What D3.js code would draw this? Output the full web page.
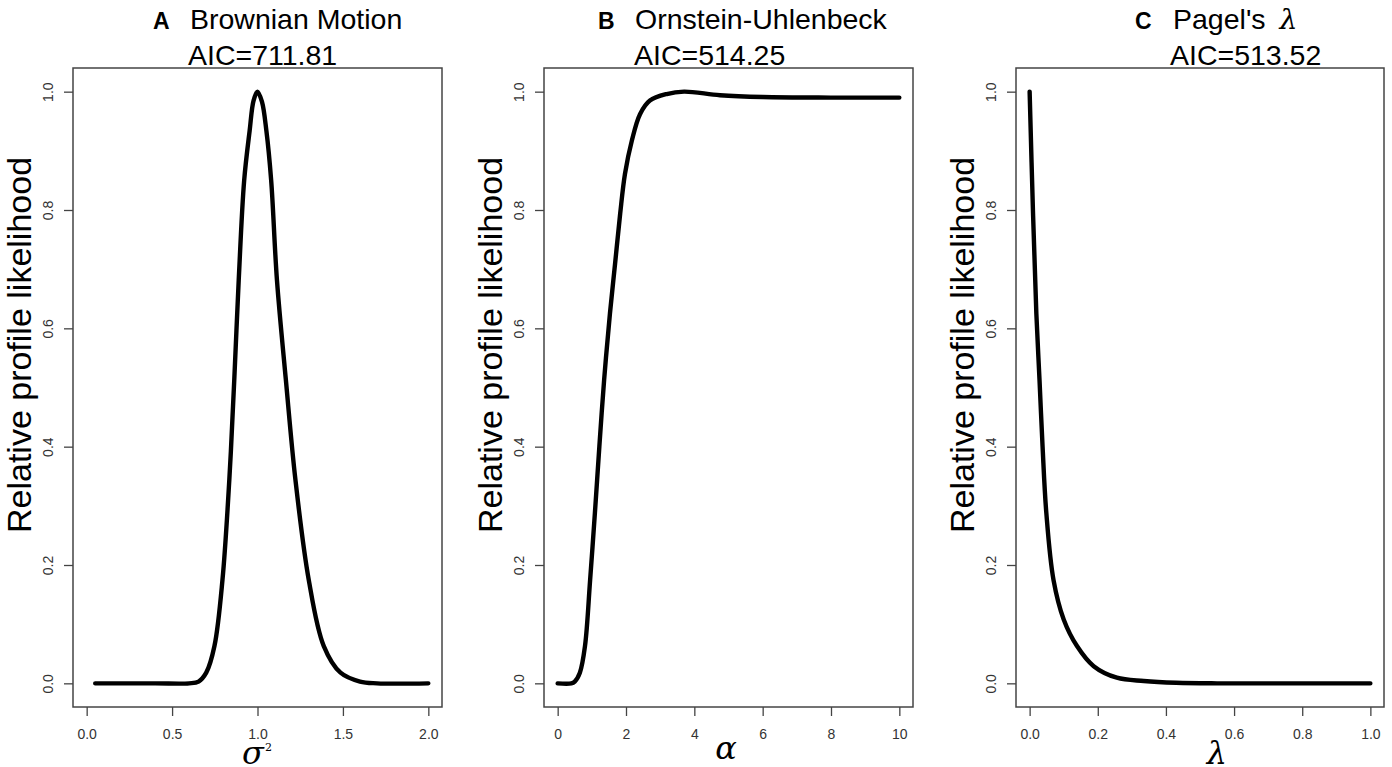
<!DOCTYPE html>
<html lang="en">
<script src="https://d3js.org/d3.v7.min.js"></script>
<style>
  body { margin: 0; background: white; }
  text { font-family: "Liberation Sans", Arial, sans-serif; }
</style>
<body>
<svg width="1392" height="767" id="fig"></svg>
<script>
  // values
  var xA = [0.05, 0.40, 0.60, 0.655, 0.700, 0.748, 0.795, 0.835, 0.864, 0.890, 0.922, 0.954, 0.977, 1.0, 1.026, 1.052, 1.080, 1.114, 1.166, 1.222, 1.300, 1.388, 1.486, 1.60, 1.70, 2.0];
  var yA = [0, 0, 0, 0.003, 0.018, 0.063, 0.175, 0.344, 0.513, 0.681, 0.85, 0.934, 0.985, 1.0, 0.983, 0.934, 0.85, 0.681, 0.513, 0.344, 0.175, 0.063, 0.018, 0.003, 0, 0];

  var xB = [0, 0.40, 0.50, 0.65, 0.80, 0.95, 1.09, 1.22, 1.36, 1.53, 1.68, 1.83, 1.97, 2.17, 2.41, 2.70, 3.19, 3.70, 4.75, 6.0, 8.0, 10.0];
  var yB = [0, 0, 0.003, 0.018, 0.063, 0.175, 0.288, 0.40, 0.513, 0.625, 0.709, 0.794, 0.861, 0.917, 0.962, 0.985, 0.996, 1.0, 0.994, 0.991, 0.990, 0.990];

  var xC = [0, 0.010, 0.0197, 0.029, 0.038, 0.049, 0.070, 0.100, 0.139, 0.188, 0.256, 0.335, 0.43, 0.55, 0.75, 1.0];
  var yC = [1.0, 0.794, 0.625, 0.513, 0.40, 0.288, 0.175, 0.108, 0.063, 0.029, 0.0095, 0.004, 0.001, 0, 0, 0];

  var xTicksA = [0, 0.5, 1.0, 1.5, 2.0];
  var xTicksB = [0, 2, 4, 6, 8, 10];
  var xTicksC = [0, 0.2, 0.4, 0.6, 0.8, 1.0];
  var yTicks = [0, 0.2, 0.4, 0.6, 0.8, 1.0];

  var letters = ["A", "B", "C"];
  var names = ["Brownian Motion", "Ornstein-Uhlenbeck", "Pagel's"];
  var aics = ["AIC=711.81", "AIC=514.25", "AIC=513.52"];

  // layout of the three panels
  var plotTop = 68, plotBottom = 707;
  var panels = [
    {x: xA, y: yA, ticks: xTicksA, fmt: d3.format(".1f"), dom: [-0.08, 2.08], left: 73, right: 442,
     letterX: 153, nameX: 190, aicX: 188, labelX: 257},
    {x: xB, y: yB, ticks: xTicksB, fmt: d3.format("d"), dom: [-0.4, 10.4], left: 544, right: 913,
     letterX: 598, nameX: 635, aicX: 634, labelX: 726},
    {x: xC, y: yC, ticks: xTicksC, fmt: d3.format(".1f"), dom: [-0.04, 1.04], left: 1016, right: 1384,
     letterX: 1135, nameX: 1173, aicX: 1170, labelX: 1217}
  ];

  var svg = d3.select("#fig");
  var y = d3.scaleLinear().domain([-0.04, 1.04]).range([plotBottom, plotTop]);

  panels.forEach(function(p, i) {
    var x = d3.scaleLinear().domain(p.dom).range([p.left, p.right]);
    var g = svg.append("g");

    // curve
    var pts = p.x.map(function(v, j) { return [v, p.y[j]]; });
    g.append("path")
      .datum(pts)
      .attr("fill", "none")
      .attr("stroke", "black")
      .attr("stroke-width", 4.4)
      .attr("stroke-linecap", "round")
      .attr("stroke-linejoin", "round")
      .attr("d", d3.line()
        .curve(d3.curveCatmullRom.alpha(0.5))
        .x(function(d) { return x(d[0]); })
        .y(function(d) { return y(d[1]); }));

    // box
    g.append("rect")
      .attr("x", p.left).attr("y", plotTop)
      .attr("width", p.right - p.left).attr("height", plotBottom - plotTop)
      .attr("fill", "none").attr("stroke", "#444").attr("stroke-width", 1.5);

    var ax = g.append("g")
      .attr("transform", "translate(0," + plotBottom + ")")
      .call(d3.axisBottom(x).tickValues(p.ticks).tickFormat(p.fmt).tickSize(9).tickPadding(13));
    ax.select(".domain").remove();

    var ay = g.append("g")
      .attr("transform", "translate(" + p.left + ",0)")
      .call(d3.axisLeft(y).tickValues(yTicks).tickFormat(d3.format(".1f")).tickSize(9));
    ay.select(".domain").remove();
    ay.selectAll(".tick text")
      .attr("x", null)
      .attr("text-anchor", "middle")
      .attr("transform", "translate(-25,0) rotate(-90)")
      .attr("dy", "0.35em");

    [ax, ay].forEach(function(a) {
      a.attr("font-family", null).attr("font-size", null);
      a.selectAll(".tick text").style("font-size", "14px").attr("fill", "#333");
      a.selectAll(".tick line").attr("stroke", "#444").attr("stroke-width", 1.3);
    });

    // y label
    g.append("text")
      .attr("transform", "translate(" + (p.left - 42) + ",345) rotate(-90)")
      .attr("text-anchor", "middle")
      .style("font-size", "34px")
      .text("Relative profile likelihood");

    // titles
    g.append("text").attr("x", p.letterX).attr("y", 29)
      .style("font-size", "23px").style("font-weight", "bold").text(letters[i]);
    var t = g.append("text").attr("x", p.nameX).attr("y", 29)
      .style("font-size", "28.5px").text(names[i]);
    if (i === 2) {
      t.append("tspan").attr("dx", 14).style("font-style", "italic")
        .style("font-family", "DejaVu Serif").text("\u03bb");
    }
    g.append("text").attr("x", p.aicX).attr("y", 65)
      .style("font-size", "28.5px").text(aics[i]);
  });

  // x labels
  var lab = svg.append("text").attr("x", panels[0].labelX).attr("y", 764)
    .attr("text-anchor", "middle").style("font-size", "32px")
    .style("font-family", "DejaVu Serif").style("font-style", "italic");
  lab.append("tspan").text("\u03c3");
  lab.append("tspan").attr("dy", -13).attr("dx", 1).style("font-size", "11px").style("font-style", "normal").text("2");

  svg.append("text").attr("x", panels[1].labelX).attr("y", 759)
    .attr("text-anchor", "middle").style("font-size", "32px")
    .style("font-family", "DejaVu Serif").style("font-style", "italic").text("\u03b1");

  svg.append("text").attr("x", panels[2].labelX).attr("y", 764)
    .attr("text-anchor", "middle").style("font-size", "32px")
    .style("font-family", "DejaVu Serif").style("font-style", "italic").text("\u03bb");
</script>
</body>
</html>
